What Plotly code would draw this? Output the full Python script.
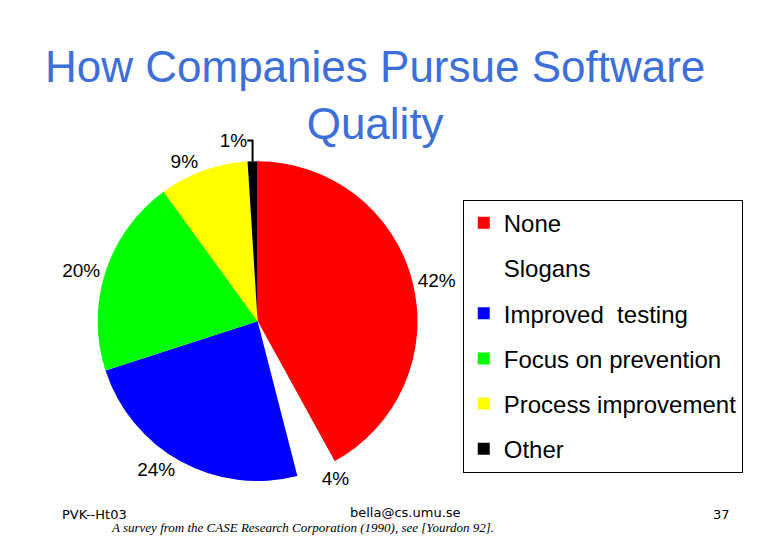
import plotly.graph_objects as go

labels = ["None", "Slogans", "Improved  testing", "Focus on prevention", "Process improvement", "Other"]
values = [42, 4, 24, 20, 9, 1]
colors = ["#ff0000", "#ffffff", "#0000ff", "#00ff00", "#ffff00", "#000000"]

fig = go.Figure(go.Pie(
    labels=labels, values=values, sort=False, direction="clockwise", rotation=0,
    marker=dict(colors=colors, line=dict(width=0)),
    texttemplate="%{percent:.0%}", textposition="outside",
    textfont=dict(family="Liberation Sans", size=19, color="black"),
    domain=dict(x=[0.115, 0.525], y=[0.12, 0.72]),
    hoverinfo="label+percent", showlegend=False,
))
for lab, col in zip(labels, colors):
    fig.add_trace(go.Scatter(
        x=[None], y=[None], mode="markers", name=lab, legendgroup=lab,
        marker=dict(symbol="square", size=16, color=col, line=dict(width=0))))
fig.update_xaxes(visible=False)
fig.update_yaxes(visible=False)
fig.update_layout(
    width=780, height=540, margin=dict(l=0, r=0, t=0, b=0),
    paper_bgcolor="white", plot_bgcolor="white",
    showlegend=True,
    legend=dict(x=0.583, y=0.645, xanchor="left", yanchor="top",
                bordercolor="black", borderwidth=1, bgcolor="white",
                font=dict(family="Liberation Sans", size=24, color="black"),
                tracegroupgap=11, itemsizing="constant", itemwidth=30),
    annotations=[
        dict(text="How Companies Pursue Software<br>Quality", x=0.47, y=0.94, xref="paper", yref="paper",
             xanchor="center", yanchor="top", showarrow=False,
             font=dict(family="Liberation Sans", size=44, color="#3d6fd9")),
        dict(text="PVK--Ht03", x=0.067, y=0.045, xref="paper", yref="paper", xanchor="left",
             showarrow=False, font=dict(family="DejaVu Sans", size=13, color="black")),
        dict(text="bella@cs.umu.se", x=0.51, y=0.048, xref="paper", yref="paper", xanchor="center",
             showarrow=False, font=dict(family="DejaVu Sans", size=13, color="black")),
        dict(text="<i>A survey from the CASE Research Corporation (1990), see [Yourdon 92].</i>", x=0.13, y=0.02,
             xref="paper", yref="paper", xanchor="left", showarrow=False,
             font=dict(family="Liberation Serif", size=13, color="black")),
        dict(text="37", x=0.915, y=0.045, xref="paper", yref="paper", xanchor="center",
             showarrow=False, font=dict(family="DejaVu Sans", size=13, color="black")),
    ],
)
fig.write_html("out.html")
